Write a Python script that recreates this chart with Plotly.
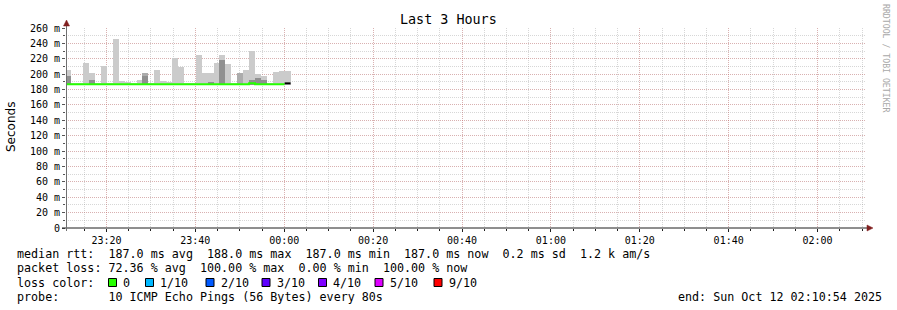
import plotly.graph_objects as go
import pandas as pd

# ---------------- data ----------------
first_step = "2025-10-11 23:10:46"      # start of first 80 s step
step_seconds = 80
range_start = "2025-10-11 23:10:54"
range_end = "2025-10-12 02:10:54"

# smoke (ms): top of light smoke, medium smoke, dark smoke per 80 s step
smoke_max = [206, 189, 188, 214, 201, 188, 210, 188, 245.6, 191, 190, 188, 192, 201,
             188, 205.5, 191, 190, 221, 209.5, 189, 188, 224.7, 202, 202, 214, 224.7,
             213, 189, 202, 206, 230.4, 200.8, 197, 188, 203, 204, 204]
smoke_mid = [None, None, None, None, None, None, None, None, None, None, None, None, None, 201,
             None, None, None, None, None, None, None, None, None, None, None, None, None,
             None, None, 202, None, None, None, None, None, None, None, None]
smoke_dark = [198, None, None, None, 193, None, None, None, None, None, None, None, None, 197,
              None, None, None, None, None, None, None, None, None, None, 190, None, 218.6,
              None, None, None, None, 193, 194.6, 193, None, None, None, None]
median_rtt = [187, 187, 187, 187, 187, 187, 187, 187, 187, 187, 187, 187, 187, 187,
              187, 187, 187, 187, 187, 187, 187, 187, 187, 187, 187, 187, 187,
              187, 187, 187, 187, 188.3, 187, 187, 187, 187, 187, 188]
smoke_base = 186

y_tick_values = [0, 20, 40, 60, 80, 100, 120, 140, 160, 180, 200, 220, 240, 260]
y_tick_labels = ["0", "20 m", "40 m", "60 m", "80 m", "100 m", "120 m", "140 m",
                 "160 m", "180 m", "200 m", "220 m", "240 m", "260 m"]
x_tick_times = ["2025-10-11 23:20", "2025-10-11 23:40", "2025-10-12 00:00", "2025-10-12 00:20",
                "2025-10-12 00:40", "2025-10-12 01:00", "2025-10-12 01:20", "2025-10-12 01:40",
                "2025-10-12 02:00"]
x_tick_labels = ["23:20", "23:40", "00:00", "00:20", "00:40", "01:00", "01:20", "01:40", "02:00"]

loss_labels = ["0", "1/10", "2/10", "3/10", "4/10", "5/10", "9/10"]
loss_colors = ["#26ff00", "#00b8ff", "#0059ff", "#5e00ff", "#7e00ff", "#dd00ff", "#ff0000"]

legend_median = "median rtt:  187.0 ms avg  188.0 ms max  187.0 ms min  187.0 ms now  0.2 ms sd  1.2 k am/s"
legend_loss = "packet loss: 72.36 % avg  100.00 % max  0.00 % min  100.00 % now"
legend_color_title = "loss color:"
legend_probe = "probe:       10 ICMP Echo Pings (56 Bytes) every 80s"
legend_end = "end: Sun Oct 12 02:10:54 2025"

# ---------------- geometry ----------------
W, H = 897, 310
PL, PR, PT, PB = 66, 31, 28, 82
PW, PH = W - PL - PR, H - PT - PB
MONO = "DejaVu Sans Mono"


def px(x):
    return (x - PL) / PW


def py(y):
    return (PT + PH - y) / PH


n = len(smoke_max)
starts = pd.date_range(first_step, periods=n + 1, freq=f"{step_seconds}s")
centers = starts[:-1] + pd.Timedelta(seconds=step_seconds / 2)
bar_w = step_seconds * 1000

fig = go.Figure()


def smoke_trace(vals, color):
    xs = [c for c, v in zip(centers, vals) if v is not None]
    ys = [v - smoke_base for v in vals if v is not None]
    fig.add_trace(go.Bar(x=xs, y=ys, base=smoke_base, width=bar_w,
                         marker=dict(color=color, line=dict(width=0)),
                         hoverinfo="skip"))


smoke_trace(smoke_max, "#cbcbcb")
smoke_trace(smoke_mid, "#acacac")
smoke_trace(smoke_dark, "#909090")

# median line (green while loss colour is "0"), last step black
m_x = list(starts[:n])
fig.add_trace(go.Scatter(x=m_x[:n - 1] + [starts[n - 1]], y=median_rtt[:n - 1] + [median_rtt[n - 2]],
                         mode="lines", line=dict(color="#26ff00", width=2, shape="hv"),
                         hoverinfo="skip"))
fig.add_trace(go.Scatter(x=[starts[n - 1], starts[n]], y=[median_rtt[n - 1], median_rtt[n - 1]],
                         mode="lines", line=dict(color="#000000", width=2, shape="hv"),
                         hoverinfo="skip"))

major_grid = "rgba(222,79,79,0.28)"
minor_grid = "rgba(143,143,143,0.36)"

fig.update_layout(
    width=W, height=H,
    margin=dict(l=PL, r=PR, t=PT, b=PB, pad=0),
    paper_bgcolor="white", plot_bgcolor="white",
    showlegend=False, barmode="overlay", bargap=0,
    font=dict(family=MONO, size=10, color="black"),
    xaxis=dict(type="date", range=[range_start, range_end],
               tickmode="array", tickvals=x_tick_times, ticktext=x_tick_labels,
               showgrid=True, gridcolor=major_grid, griddash="1px,1px", gridwidth=1,
               ticks="outside", ticklen=3, tickcolor="#1f1f1f",
               tickfont=dict(family=MONO, size=10),
               zeroline=False, showline=False,
               minor=dict(dtick=300000, tick0="2025-10-11 23:20", showgrid=True,
                          gridcolor=minor_grid, griddash="1px,1px", gridwidth=1,
                          ticks="outside", ticklen=2, tickcolor="#1f1f1f")),
    yaxis=dict(range=[0, 260], tickmode="array", tickvals=y_tick_values, ticktext=y_tick_labels,
               showgrid=True, gridcolor=major_grid, griddash="1px,1px", gridwidth=1,
               ticks="outside", ticklen=3, tickcolor="#555555",
               tickfont=dict(family=MONO, size=10),
               zeroline=False, showline=False,
               minor=dict(dtick=10, showgrid=True, gridcolor=minor_grid, griddash="1px,1px",
                          gridwidth=1, ticks="outside", ticklen=2, tickcolor="#555555")),
)

shapes = []
# axis lines
shapes.append(dict(type="line", xref="paper", yref="paper", x0=px(62), x1=px(868),
                   y0=py(228), y1=py(228), line=dict(color="#1f1f1f", width=1)))
shapes.append(dict(type="line", xref="paper", yref="paper", x0=px(66.5), x1=px(66.5),
                   y0=py(231), y1=py(25), line=dict(color="#707070", width=1)))
# arrows
ya = f"M {px(63.5)} {py(26)} L {px(69.5)} {py(26)} L {px(66.5)} {py(20)} Z"
xa = f"M {px(867)} {py(225)} L {px(867)} {py(231)} L {px(873)} {py(228)} Z"
for p in (ya, xa):
    shapes.append(dict(type="path", xref="paper", yref="paper", path=p,
                       fillcolor="#801f1f", line=dict(color="#801f1f", width=0.5)))

annotations = []


def text(s, x, y, size=11.7, family=MONO, color="black", anchor="left", angle=0):
    annotations.append(dict(text=s.replace(" ", "&nbsp;"), xref="paper", yref="paper",
                            x=px(x), y=py(y),
                            xanchor=anchor, yanchor="middle", showarrow=False,
                            textangle=angle, borderpad=0, borderwidth=0,
                            font=dict(family=family, size=size, color=color)))


text("Last 3 Hours", 448, 19, size=13.4, anchor="center")
text("Seconds", 11, 127, size=12, family="DejaVu Sans", anchor="center", angle=-90)
text("RRDTOOL / TOBI OETIKER", 886, 59, size=8.2, color="#a8a8a8", anchor="center", angle=90)

text(legend_median, 16.7, 254.3)
text(legend_loss, 16.7, 268.3)
text(legend_color_title, 16.7, 282.7)
sq_x = [108.5, 145.5, 206, 262, 318.5, 375, 434]
for lab, col, sx in zip(loss_labels, loss_colors, sq_x):
    shapes.append(dict(type="rect", xref="paper", yref="paper", x0=px(sx), x1=px(sx + 8),
                       y0=py(286.5), y1=py(278.5), fillcolor=col,
                       line=dict(color="black", width=1)))
    text(lab, sx + 14.5, 282.7)
text(legend_probe, 16.7, 296.7)
text(legend_end, 678.3, 296.7)

fig.update_layout(shapes=shapes, annotations=annotations)
fig.write_html("out.html")
